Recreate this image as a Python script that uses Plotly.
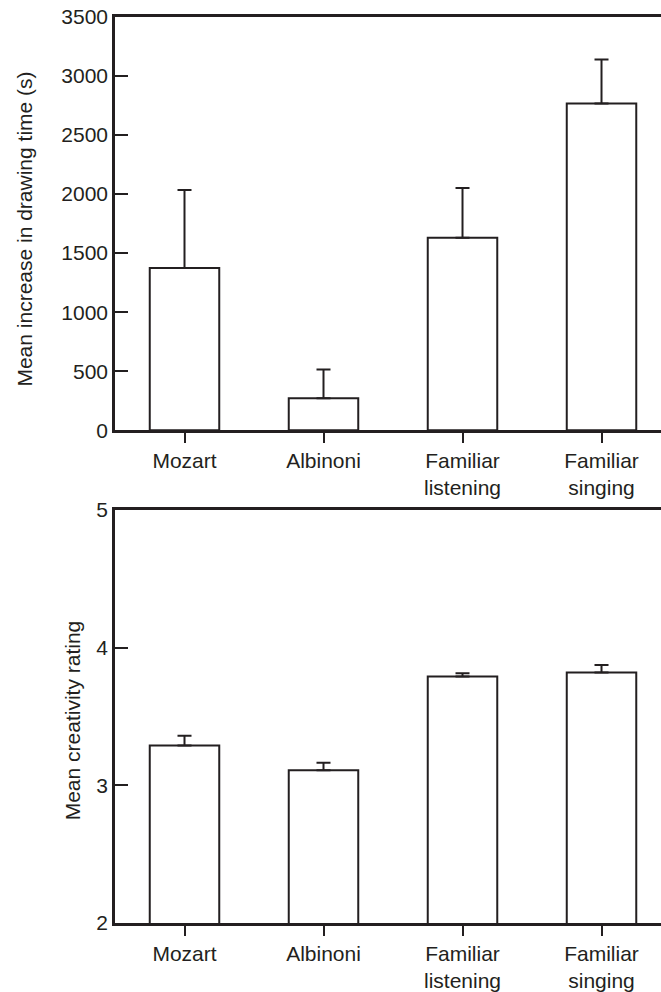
import plotly.graph_objects as go
from plotly.subplots import make_subplots

categories = ["Mozart", "Albinoni", "Familiar<br>listening", "Familiar<br>singing"]
drawing_time = [1374, 270, 1630, 2768]
drawing_err = [660, 244, 422, 371]
creativity = [3.29, 3.11, 3.79, 3.82]
creativity_err = [0.07, 0.055, 0.025, 0.055]
top_ticks = [0, 500, 1000, 1500, 2000, 2500, 3000, 3500]
bottom_ticks = [2, 3, 4, 5]

INK = "#231f20"
FONT = "Liberation Sans, Arial, sans-serif"

fig = make_subplots(rows=2, cols=1, vertical_spacing=0.0)

x = list(range(len(categories)))

fig.add_trace(go.Bar(
    x=x, y=drawing_time, width=0.5,
    marker=dict(color="white", line=dict(color=INK, width=2)),
    error_y=dict(type="data", symmetric=False, array=drawing_err,
                 arrayminus=[0] * len(drawing_err), color=INK, thickness=2, width=7),
    showlegend=False,
), row=1, col=1)

fig.add_trace(go.Bar(
    x=x, y=creativity, width=0.5,
    marker=dict(color="white", line=dict(color=INK, width=2)),
    error_y=dict(type="data", symmetric=False, array=creativity_err,
                 arrayminus=[0] * len(creativity_err), color=INK, thickness=2, width=7),
    showlegend=False,
), row=2, col=1)

xaxis_common = dict(
    range=[-0.5, 3.428], tickmode="array", tickvals=x, ticktext=categories,
    showline=True, linecolor=INK, linewidth=2.5, mirror=True,
    ticks="outside", ticklen=10, tickwidth=2, tickcolor=INK,
    showgrid=False, zeroline=False,
    tickfont=dict(family=FONT, size=21, color=INK),
)
yaxis_common = dict(
    showline=True, linecolor=INK, linewidth=2.5,
    ticks="inside", ticklen=13, tickwidth=2, tickcolor=INK,
    showgrid=False, zeroline=False,
    tickfont=dict(family=FONT, size=21, color=INK),
)

fig.update_layout(
    width=661, height=992,
    margin=dict(l=115, r=0, t=17, b=63),
    paper_bgcolor="white", plot_bgcolor="white",
    font=dict(family=FONT, size=21, color=INK),
    xaxis=dict(domain=[0, 1], **xaxis_common),
    xaxis2=dict(domain=[0, 1], **xaxis_common),
    yaxis=dict(domain=[0.5439, 1.0], range=[0, 3500], tickvals=top_ticks, **yaxis_common),
    yaxis2=dict(domain=[0.0, 0.4558], range=[2, 5], tickvals=bottom_ticks, **yaxis_common),
    annotations=[
        dict(text="Mean increase in drawing time (s)", xref="paper", yref="paper",
             x=-0.1648, y=0.7654, xanchor="center", yanchor="middle", textangle=-90,
             showarrow=False, font=dict(family=FONT, size=21, color=INK)),
        dict(text="Mean creativity rating", xref="paper", yref="paper",
             x=-0.0788, y=0.2237, xanchor="center", yanchor="middle", textangle=-90,
             showarrow=False, font=dict(family=FONT, size=21, color=INK)),
    ],
)

fig.write_html("out.html")
